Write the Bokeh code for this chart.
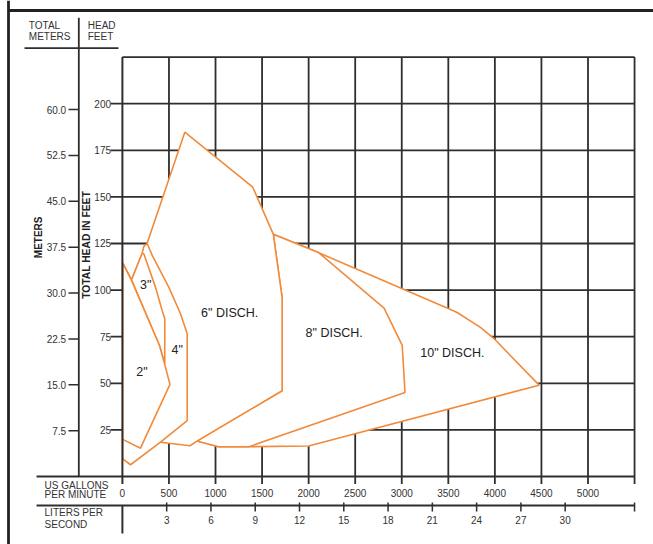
import math
from bokeh.plotting import figure
from bokeh.models import Range1d
from bokeh.core.properties import value
from bokeh.embed import file_html
from bokeh.resources import INLINE

# ---------------- data ----------------
gpm_ticks = [0, 500, 1000, 1500, 2000, 2500, 3000, 3500, 4000, 4500, 5000]
gpm_labels = ["0", "500", "1000", "1500", "2000", "2500", "3000", "3500", "4000", "4500", "5000"]
gpm_grid_end = 5500
lps_ticks = [3, 6, 9, 12, 15, 18, 21, 24, 27, 30]
lps_labels = ["3", "6", "9", "12", "15", "18", "21", "24", "27", "30"]
feet_ticks = [25, 50, 75, 100, 125, 150, 175, 200]
feet_labels = ["25", "50", "75", "100", "125", "150", "175", "200"]
feet_grid_top = 225
meter_ticks = [7.5, 15.0, 22.5, 30.0, 37.5, 45.0, 52.5, 60.0]
meter_labels = ["7.5", "15.0", "22.5", "30.0", "37.5", "45.0", "52.5", "60.0"]
FT_PER_M = 3.28084
GPM_PER_LPS_UNIT = 158.5

# pump operating ranges (US gpm, total head ft); drawn back to front
pump_10_gpm = [1620, 2110, 3505, 3595, 3845, 3990, 4475, 2000, 1360, 1035, 800, 1715, 1715]
pump_10_ft = [130, 120, 90, 88, 80, 74, 49, 16.4, 16, 16, 19, 46, 96]
pump_8_gpm = [1620, 2110, 2810, 3005, 3035, 1360, 1035, 800, 1715, 1715]
pump_8_ft = [130, 120, 90.3, 70.3, 45.1, 16, 16, 19, 46, 96]
pump_6_gpm = [670, 1400, 1620, 1715, 1715, 800, 725, 409, 265]
pump_6_ft = [184.7, 155.2, 130, 96, 46, 19, 16.5, 18.4, 125]
pump_4_gpm = [266, 320, 498, 624, 696, 696, 409, 87, 4, 4, 98, 213, 230]
pump_4_ft = [125, 118.6, 101.6, 87.3, 76.6, 30, 18.4, 6.3, 9.5, 114.5, 105.5, 119.8, 123.5]
pump_3_gpm = [98, 213, 230, 355, 427, 455, 455, 398]
pump_3_ft = [105.5, 119.8, 119.5, 101.6, 89.1, 84.6, 60.6, 70.3]
pump_2_gpm = [4, 98, 398, 452, 511, 194, 4]
pump_2_ft = [114.5, 105.2, 70.3, 60.6, 49.4, 15.2, 19.9]

pump_names = ['10" DISCH.', '8" DISCH.', '6" DISCH.', '4"', '3"', '2"']
pump_gpm = [pump_10_gpm, pump_8_gpm, pump_6_gpm, pump_4_gpm, pump_3_gpm, pump_2_gpm]
pump_ft = [pump_10_ft, pump_8_ft, pump_6_ft, pump_4_ft, pump_3_ft, pump_2_ft]
label_gpm = [3543, 2274, 1152, 588, 250, 210]
label_ft = [66.4, 77.1, 87.6, 68.0, 102.5, 56.3]

# ---------------- layout / style ----------------
W, H = 653, 544
FONT = value("Liberation Sans")
TXT = "#333333"
GRID = "#2e2e2e"
ORANGE = "#F28A3A"
X0, X1 = -1309.1, 5703.5
Y0, Y1 = -36.48, 255.36

p = figure(width=W, height=H, output_backend="svg", toolbar_location=None,
           x_range=Range1d(X0, X1), y_range=Range1d(Y0, Y1),
           min_border=0, min_border_left=0, min_border_right=0,
           min_border_top=0, min_border_bottom=0)
p.axis.visible = False
p.grid.visible = False
p.outline_line_color = None
p.background_fill_color = "white"
p.border_fill_color = "white"

# outer frame (left and top)
p.segment(x0=[-1223.2], y0=[Y1], x1=[-1223.2], y1=[Y0], line_color="#222222", line_width=2.8)
p.segment(x0=[-1223.2], y0=[250.0], x1=[X1], y1=[250.0], line_color="#222222", line_width=2.8)

# grid: verticals (extend a little below the axis as ticks)
vx = gpm_ticks[1:] + [gpm_grid_end]
p.segment(x0=vx, y0=[feet_grid_top] * len(vx), x1=vx, y1=[-4.0] * len(vx),
          line_color=GRID, line_width=1.8)
# grid horizontals (extend left as feet ticks)
p.segment(x0=[-128] * len(feet_ticks), y0=feet_ticks, x1=[gpm_grid_end] * len(feet_ticks),
          y1=feet_ticks, line_color=GRID, line_width=1.8)
p.segment(x0=[0], y0=[feet_grid_top], x1=[gpm_grid_end], y1=[feet_grid_top],
          line_color=GRID, line_width=1.8)

# pump ranges
for xs, ys in zip(pump_gpm, pump_ft):
    p.patch(xs, ys, fill_color="white", line_color=ORANGE, line_width=1.6)

p.text(x=label_gpm, y=label_ft, text=pump_names, text_font=FONT, text_font_size="12.5px",
       text_color="#222222", text_align="center", text_baseline="middle")

# feet axis labels
p.text(x=[-122] * len(feet_ticks), y=feet_ticks, text=feet_labels, text_font=FONT,
       text_font_size="10px", text_color=TXT, text_align="right", text_baseline="middle")
p.text(x=[-383], y=[124.2], text=["TOTAL HEAD IN FEET"], angle=math.pi / 2,
       text_font=FONT, text_font_size="10.3px", text_font_style="bold",
       text_color="#222222", text_align="center", text_baseline="middle")

# meters axis
m_ft = [m * FT_PER_M for m in meter_ticks]
p.segment(x0=[-468], y0=[246.1], x1=[-468], y1=[0], line_color=GRID, line_width=1.8)
p.segment(x0=[-579] * len(m_ft), y0=m_ft, x1=[-468] * len(m_ft), y1=m_ft,
          line_color=GRID, line_width=1.5)
p.text(x=[-604] * len(m_ft), y=m_ft, text=meter_labels, text_font=FONT,
       text_font_size="10px", text_color=TXT, text_align="right", text_baseline="middle")
p.text(x=[-906], y=[128.3], text=["METERS"], angle=math.pi / 2,
       text_font=FONT, text_font_size="10px", text_font_style="bold",
       text_color="#222222", text_align="center", text_baseline="middle")

# header
p.segment(x0=[-1051], y0=[229.8], x1=[-42], y1=[229.8], line_color=GRID, line_width=1.8)
p.text(x=[-1005, -1005, -372, -372], y=[242.0, 236.2, 242.0, 236.2],
       text=["TOTAL", "METERS", "HEAD", "FEET"], text_font=FONT, text_font_size="10px",
       text_color=TXT, text_align="left", text_baseline="middle")

# bottom axes
p.segment(x0=[-922, -922], y0=[0, -15.56], x1=[gpm_grid_end, gpm_grid_end], y1=[0, -15.56],
          line_color=GRID, line_width=1.8)
p.segment(x0=[0, 0], y0=[feet_grid_top, -15.56], x1=[0, 0], y1=[-4.0, -30.6],
          line_color=GRID, line_width=2.0)
p.text(x=gpm_ticks, y=[-9.1] * len(gpm_ticks), text=gpm_labels, text_font=FONT,
       text_font_size="10px", text_color=TXT, text_align="center", text_baseline="middle")
lx = [v * GPM_PER_LPS_UNIT for v in lps_ticks]
tx = lx + [gpm_grid_end]
p.segment(x0=tx, y0=[-13.95] * len(tx), x1=tx, y1=[-18.8] * len(tx),
          line_color=GRID, line_width=1.5)
p.text(x=lx, y=[-23.6] * len(lx), text=lps_labels, text_font=FONT,
       text_font_size="10px", text_color=TXT, text_align="center", text_baseline="middle")
p.text(x=[-836] * 4, y=[-4.6, -9.9, -19.4, -25.9],
       text=["US GALLONS", "PER MINUTE", "LITERS PER", "SECOND"], text_font=FONT,
       text_font_size="10px", text_color=TXT, text_align="left", text_baseline="middle")

open("out.html", "w").write(file_html(p, INLINE))
